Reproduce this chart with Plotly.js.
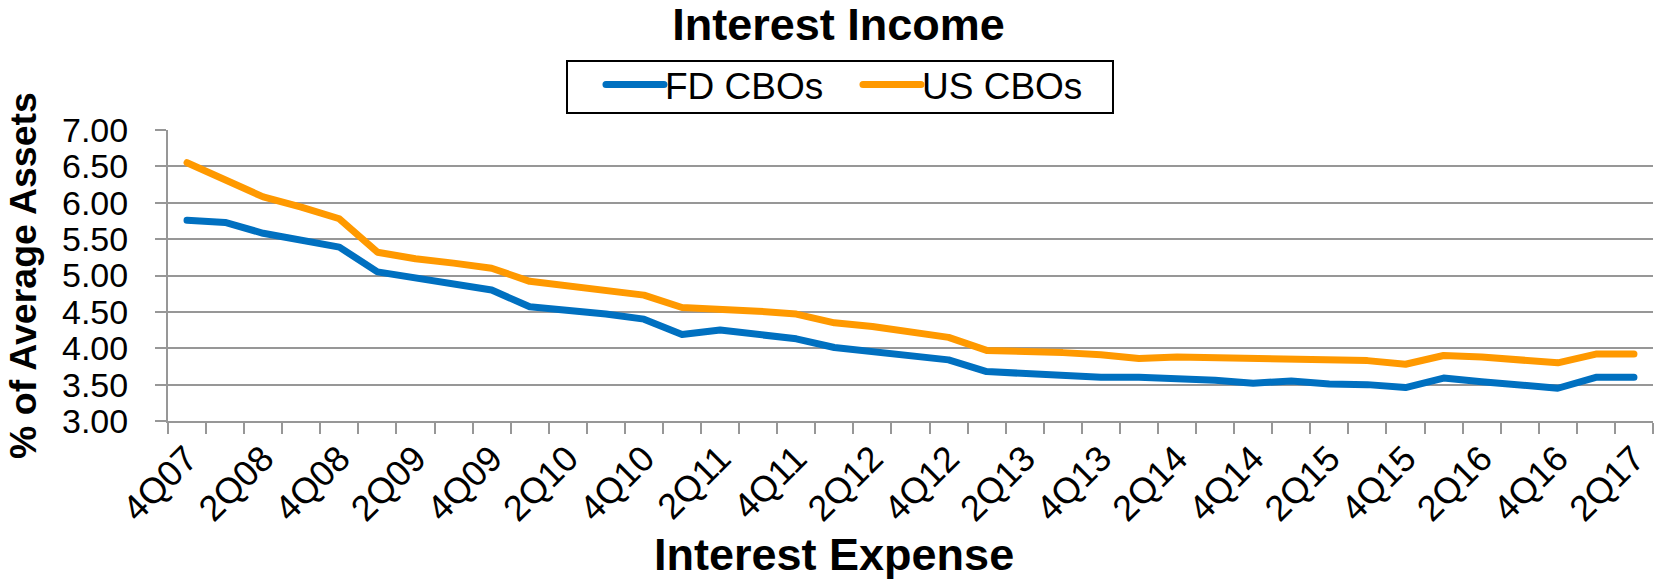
<!DOCTYPE html>
<html>
<head>
<meta charset="utf-8">
<script src="https://cdn.plot.ly/plotly-3.0.1.min.js"></script>
<style>
html, body { margin: 0; padding: 0; background: #fff; }
#chart { width: 1654px; height: 580px; }
.js-line { stroke-linecap: round; stroke-linejoin: round; }
</style>
</head>
<body>
<div id="chart"></div>
<script>
const quarters = ['4Q07','1Q08','2Q08','3Q08','4Q08','1Q09','2Q09','3Q09','4Q09','1Q10','2Q10','3Q10','4Q10',
  '1Q11','2Q11','3Q11','4Q11','1Q12','2Q12','3Q12','4Q12','1Q13','2Q13','3Q13','4Q13','1Q14','2Q14','3Q14','4Q14',
  '1Q15','2Q15','3Q15','4Q15','1Q16','2Q16','3Q16','4Q16','1Q17','2Q17'];
const fdCBOs = [5.76,5.73,5.58,5.49,5.39,5.05,4.96,4.89,4.80,4.57,4.53,4.47,4.40,4.19,4.25,4.20,4.13,4.01,3.96,3.90,
  3.84,3.68,3.65,3.63,3.60,3.60,3.59,3.56,3.52,3.55,3.51,3.50,3.46,3.59,3.54,3.50,3.45,3.60,3.60];
const usCBOs = [6.55,6.32,6.08,5.94,5.78,5.32,5.23,5.17,5.10,4.92,4.85,4.79,4.73,4.56,4.54,4.51,4.47,4.35,4.30,4.23,
  4.15,3.97,3.96,3.94,3.91,3.86,3.88,3.87,3.84,3.84,3.83,3.83,3.78,3.90,3.88,3.85,3.80,3.92,3.92];
const seriesNames = ['FD CBOs', 'US CBOs'];
const chartTitle = 'Interest Income';
const xTitle = 'Interest Expense';
const yTitle = '% of Average Assets';

const tickText = quarters.map((q, i) => (i % 2 === 0 ? q : ''));
const FONT = 'Liberation Sans, Arial, Helvetica, sans-serif';
const GRID = '#979797';

const traces = [
  { x: quarters, y: fdCBOs, name: seriesNames[0], type: 'scatter', mode: 'lines',
    line: { color: '#0070C0', width: 7 } },
  { x: quarters, y: usCBOs, name: seriesNames[1], type: 'scatter', mode: 'lines',
    line: { color: '#FF9900', width: 7 } }
];

const layout = {
  width: 1654, height: 580,
  margin: { l: 168, r: 1, t: 130, b: 159 },
  paper_bgcolor: '#fff', plot_bgcolor: '#fff',
  font: { family: FONT, color: '#000', size: 36 },
  showlegend: true,
  title: { text: chartTitle, font: { family: FONT, size: 45, color: '#000', weight: 'bold' },
    xref: 'container', x: 0.507, xanchor: 'center', yref: 'container', y: 0.9585, yanchor: 'middle' },
  legend: { orientation: 'h', x: 0.29158, xanchor: 'left', y: 1.2612, yanchor: 'top',
    borderwidth: 0, bgcolor: 'rgba(0,0,0,0)', itemwidth: 54,
    entrywidth: 188, entrywidthmode: 'pixels',
    font: { family: FONT, size: 37, color: '#000' } },
  shapes: [
    { type: 'rect', xref: 'paper', yref: 'paper', x0: 0.26869, x1: 0.63636, y0: 1.05842, y1: 1.23711,
      line: { color: '#000', width: 2 }, fillcolor: 'rgba(0,0,0,0)', layer: 'below' }
  ],
  xaxis: {
    type: 'category', tickmode: 'array', tickvals: quarters, ticktext: tickText,
    tickson: 'boundaries', ticks: 'outside', ticklen: 11, tickwidth: 2, tickcolor: GRID,
    tickangle: -45, tickfont: { family: FONT, size: 36, color: '#000' },
    showline: true, linecolor: GRID, linewidth: 2, showgrid: false, zeroline: false,
    range: [-0.5, quarters.length - 0.5], fixedrange: true
  },
  yaxis: {
    range: [3, 7], dtick: 0.5, tick0: 3, tickformat: '.2f',
    ticks: 'outside', ticklen: 11, tickwidth: 2, tickcolor: GRID,
    ticklabelstandoff: 20,
    tickfont: { family: FONT, size: 34, color: '#000' },
    showline: true, linecolor: GRID, linewidth: 2,
    showgrid: true, gridcolor: GRID, gridwidth: 2, zeroline: false,
    title: { text: yTitle, font: { family: FONT, size: 37.5, color: '#000', weight: 'bold' }, standoff: 14 },
    fixedrange: true
  },
  annotations: [
    { text: xTitle, xref: 'paper', yref: 'paper', x: 0.4485, y: -0.46, xanchor: 'center', yanchor: 'middle',
      showarrow: false, font: { family: FONT, size: 45, color: '#000', weight: 'bold' } }
  ]
};

Plotly.newPlot('chart', traces, layout, { displayModeBar: false, staticPlot: true }).then(function () {
  document.querySelectorAll('.legend .legendlines path').forEach(function (p) {
    p.setAttribute('d', 'M5,0h58');
  });
});
</script>
</body>
</html>
